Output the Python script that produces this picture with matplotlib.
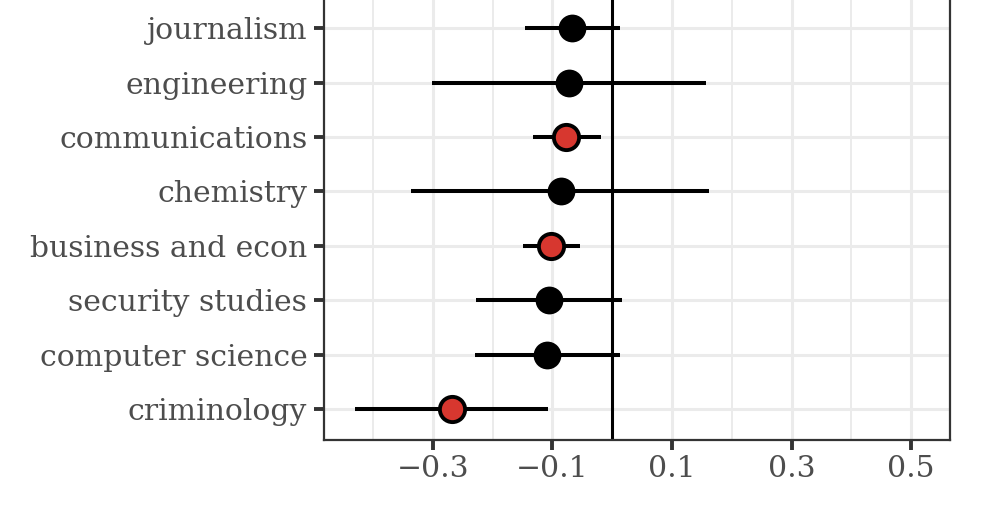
import matplotlib
matplotlib.use("Agg")
import matplotlib.pyplot as plt
from matplotlib.ticker import FixedLocator

fields = ["criminology", "computer science", "security studies", "business and econ",
          "chemistry", "communications", "engineering", "journalism"]
estimate = [-0.268, -0.109, -0.105, -0.102, -0.085, -0.077, -0.072, -0.067]
ci_low = [-0.430, -0.229, -0.227, -0.149, -0.336, -0.132, -0.301, -0.145]
ci_high = [-0.107, 0.013, 0.017, -0.054, 0.162, -0.018, 0.157, 0.013]
significant = [True, False, False, True, False, True, False, False]

plt.rcParams["font.family"] = ["DejaVu Serif"]

fig = plt.figure(figsize=(9.9, 5.18), dpi=100)
ax = fig.add_axes([324 / 990, 78 / 518, 626 / 990, 440 / 518])

ys = list(range(len(fields)))
ax.set_xlim(-0.482, 0.565)
ax.set_ylim(-0.57, 7.52)

ax.xaxis.set_major_locator(FixedLocator([-0.3, -0.1, 0.1, 0.3, 0.5]))
ax.xaxis.set_minor_locator(FixedLocator([-0.4, -0.2, 0.0, 0.2, 0.4]))
ax.grid(which="major", color="#ebebeb", lw=2.2, zorder=0)
ax.grid(which="minor", axis="x", color="#ebebeb", lw=1.4, zorder=0)
ax.set_axisbelow(True)

ax.axvline(0, color="black", lw=2.2, zorder=2)
ax.hlines(ys, ci_low, ci_high, color="black", lw=2.9, zorder=3)
for y, e, s in zip(ys, estimate, significant):
    if s:
        ax.scatter(e, y, s=330, color="#d7372f", edgecolor="black", lw=2.8, zorder=4)
    else:
        ax.scatter(e, y, s=400, color="black", edgecolor="black", lw=0, zorder=4)

ax.set_yticks(ys)
ax.set_yticklabels(fields)
ax.set_xticklabels(["\u22120.3", "\u22120.1", "0.1", "0.3", "0.5"])
ax.tick_params(axis="both", which="major", length=7, width=2.8, color="#333333",
               labelsize=21.5, labelcolor="#4d4d4d")
ax.tick_params(axis="y", which="major", pad=5)
ax.tick_params(axis="x", which="major", pad=4)
ax.tick_params(axis="x", which="minor", length=0)

for side in ["left", "right", "bottom"]:
    ax.spines[side].set_color("#333333")
    ax.spines[side].set_linewidth(1.6)
ax.spines["top"].set_visible(False)

fig.savefig("out.png", dpi=100)
